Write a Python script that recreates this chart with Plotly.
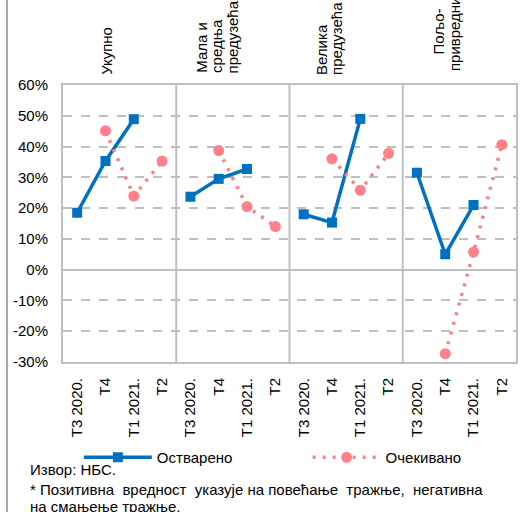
import plotly.graph_objects as go

# ---- data ----
quarters = ["Т3 2020.", "Т4", "Т1 2021.", "Т2"]
group_lines = [["Укупно"], ["Мала и", "средња", "предузећа"], ["Велика", "предузећа"], ["Пољо-", "привредници"]]

realized_total = [18.5, 35.3, 48.9, None]
realized_sme = [23.7, 29.5, 32.7, None]
realized_large = [18.0, 15.3, 49.0, None]
realized_agri = [31.5, 5.0, 21.0, None]

expected_total = [None, 45.1, 23.9, 35.3]
expected_sme = [None, 38.7, 20.5, 14.0]
expected_large = [None, 36.0, 25.8, 37.8]
expected_agri = [None, -27.3, 5.7, 40.6]

series_names = ["Остварено", "Очекивано"]
y_ticks = [-30, -20, -10, 0, 10, 20, 30, 40, 50, 60]
y_ticktext = [f"{v}%" for v in y_ticks]
source_text = "Извор: НБС."
note_lines = ["* Позитивна  вредност  указује на повећање  тражње,  негативна", "на смањење тражње."]

# ---- build ----
realized = realized_total + realized_sme + realized_large + realized_agri
expected = expected_total + expected_sme + expected_large + expected_agri
xs = list(range(len(realized)))
ticktext = quarters * 4

BLUE = "#0070C0"
PINK = "#FF8088"
GRAY = "#BFBFBF"
FONT = "Liberation Sans, Arial, sans-serif"
FS = 15

fig = go.Figure()
fig.add_trace(go.Scatter(
    x=xs, y=realized, name=series_names[0], mode="lines+markers",
    line=dict(color=BLUE, width=3.5),
    marker=dict(symbol="square", size=10, color=BLUE),
    legend="legend",
))
fig.add_trace(go.Scatter(
    x=xs, y=expected, name=series_names[1], mode="lines+markers",
    line=dict(color=PINK, width=3.5, dash="3px,7px"),
    marker=dict(symbol="circle", size=11, color=PINK),
    legend="legend2",
))

shapes = []
for d in [3.5, 7.5, 11.5]:
    shapes.append(dict(type="line", xref="x", yref="paper", x0=d, x1=d, y0=0, y1=1,
                       line=dict(color=GRAY, width=2), layer="below"))
# outer chart-area border on the left
shapes.append(dict(type="line", xref="paper", yref="paper", x0=-0.1237, x1=-0.1237,
                   y0=-0.6, y1=1.4, line=dict(color="#A6A6A6", width=2)))

annotations = []
# group header labels (rotated)
header_specs = [
    (1.05, 1.0289, "bottom"),
    (4.38, 1.036, "bottom"), (4.90, 1.036, "bottom"), (5.50, 1.036, "bottom"),
    (8.63, 1.0289, "bottom"), (9.16, 1.0289, "bottom"),
    (12.78, 1.193, "middle"), (13.31, 1.043, "bottom"),
]
flat_lines = [t for g in group_lines for t in g]
for (hx, hy, ya), txt in zip(header_specs, flat_lines):
    annotations.append(dict(text=txt, x=hx, y=hy, xref="x", yref="paper", textangle=-90,
                            xanchor="center", yanchor=ya, showarrow=False,
                            font=dict(family=FONT, size=FS, color="#000")))
annotations.append(dict(text=source_text, x=-0.0776, y=-0.388, xref="paper", yref="paper",
                        xanchor="left", yanchor="middle", showarrow=False,
                        font=dict(family=FONT, size=FS, color="#000")))
for i, ln in enumerate(note_lines):
    annotations.append(dict(text=ln, x=-0.0776, y=-0.46 - i * 0.062, xref="paper", yref="paper",
                            xanchor="left", yanchor="middle", showarrow=False,
                            font=dict(family=FONT, size=FS, color="#000")))

legend_common = dict(orientation="h", yanchor="middle", xanchor="left", itemwidth=68,
                     font=dict(family=FONT, size=FS, color="#000"), bgcolor="rgba(0,0,0,0)")

fig.update_layout(
    width=530, height=512,
    margin=dict(l=63, r=12, t=85, b=150),
    paper_bgcolor="white", plot_bgcolor="white",
    font=dict(family=FONT, size=FS, color="#000"),
    showlegend=True,
    legend=dict(x=0.035, y=-0.345, **legend_common),
    legend2=dict(x=0.54, y=-0.345, **legend_common),
    shapes=shapes, annotations=annotations,
)
fig.update_xaxes(range=[-0.5, 15.5], tickvals=xs, ticktext=ticktext, tickangle=-90,
                 showgrid=False, zeroline=False, showline=True, mirror=True,
                 linecolor=GRAY, linewidth=2, ticks="", ticklabelstandoff=8,
                 tickfont=dict(family=FONT, size=FS, color="#000"))
fig.update_yaxes(range=[-30, 60], tickvals=y_ticks, ticktext=y_ticktext,
                 showgrid=True, gridcolor=GRAY, gridwidth=1.5, griddash="dash",
                 zeroline=True, zerolinecolor=GRAY, zerolinewidth=2,
                 showline=True, mirror=True, linecolor=GRAY, linewidth=2,
                 ticks="", ticklabelstandoff=10,
                 tickfont=dict(family=FONT, size=FS, color="#000"))

fig.write_html("out.html")
